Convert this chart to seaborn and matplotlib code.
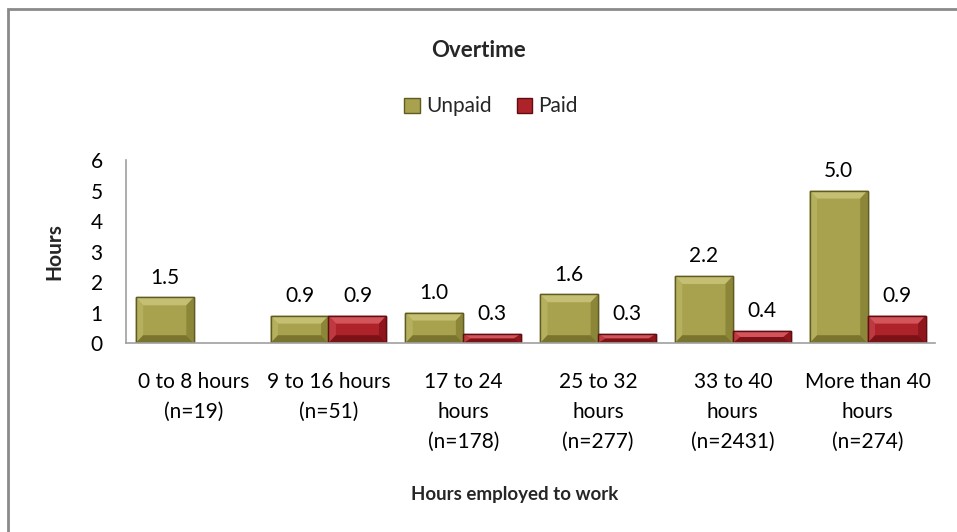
import matplotlib
matplotlib.use("Agg")
import matplotlib.pyplot as plt
import seaborn as sns
import numpy as np
import pandas as pd
from matplotlib.patches import Rectangle, Polygon

# --- data ---
categories = ["0 to 8 hours\n(n=19)", "9 to 16 hours\n(n=51)", "17 to 24\nhours\n(n=178)",
              "25 to 32\nhours\n(n=277)", "33 to 40\nhours\n(n=2431)", "More than 40\nhours\n(n=274)"]
unpaid = [1.5, 0.9, 1.0, 1.6, 2.2, 5.0]
paid = [np.nan, 0.9, 0.3, 0.3, 0.4, 0.9]
series = ["Unpaid", "Paid"]
y_ticks = [0, 1, 2, 3, 4, 5, 6]

COLORS = {"Unpaid": "#A8A24E", "Paid": "#AE2229"}
EDGES = {"Unpaid": "#5F5B22", "Paid": "#5E0E12"}
# bevel shades: top, left, right, bottom
BEVEL = {"Unpaid": ["#C4BF72", "#B5B05E", "#8C8738", "#7A752E"],
         "Paid": ["#D3545B", "#BF3A40", "#8E161C", "#7A1217"]}

df = pd.DataFrame({
    "cat": categories * 2,
    "series": ["Unpaid"] * len(categories) + ["Paid"] * len(categories),
    "value": unpaid + paid,
})

sns.set_style("white")
plt.rcParams["font.family"] = ["Lato", "DejaVu Sans"]

fig = plt.figure(figsize=(9.57, 5.32), dpi=100)
ax = fig.add_axes([0.132, 0.355, 0.845, 0.344])

sns.barplot(data=df, x="cat", y="value", hue="series", hue_order=series,
            palette=COLORS, width=0.86, ax=ax, legend=False, saturation=1)
ax.set_ylim(0, 6)

# bevel frame + data labels, taken from the drawn bars
for cont, name in zip(ax.containers, series):
    for bar in cont:
        if bar is None:
            continue
        h = bar.get_height()
        if np.isnan(h):
            continue
        x0, w = bar.get_x(), bar.get_width()
        x1 = x0 + w
        bx = min(0.055, w / 2)
        by = min(0.26, h / 2)
        top, left, right, bottom = BEVEL[name]
        faces = [
            ([(x0, h), (x1, h), (x1 - bx, h - by), (x0 + bx, h - by)], top),
            ([(x0, 0), (x0, h), (x0 + bx, h - by), (x0 + bx, by)], left),
            ([(x1, 0), (x1, h), (x1 - bx, h - by), (x1 - bx, by)], right),
            ([(x0, 0), (x1, 0), (x1 - bx, by), (x0 + bx, by)], bottom),
        ]
        for pts, c in faces:
            ax.add_patch(Polygon(pts, closed=True, facecolor=c, edgecolor="none", zorder=bar.get_zorder() + 0.1))
        bar.set_edgecolor(EDGES[name])
        bar.set_linewidth(1.0)
        ax.add_patch(Rectangle((x0, 0), w, h, fill=False, edgecolor=EDGES[name], linewidth=1.0,
                               zorder=bar.get_zorder() + 0.2))
        ax.annotate(f"{h:.1f}", (x0 + w / 2, h), xytext=(0, 7), textcoords="offset points",
                    ha="center", va="bottom", fontsize=15, color="black")

ax.set_yticks(y_ticks)
ax.tick_params(axis="both", length=0, labelsize=15, colors="black")
ax.tick_params(axis="x", pad=21)
ax.tick_params(axis="y", pad=17)
for lab in ax.get_xticklabels():
    lab.set_linespacing(1.62)
ax.set_xlabel("")
ax.set_ylabel("Hours", fontsize=15, fontweight="bold")
ax.yaxis.set_label_coords(-0.076, 0.5)

for side in ["top", "right"]:
    ax.spines[side].set_visible(False)
for side in ["left", "bottom"]:
    ax.spines[side].set_color("#A0A0A0")
    ax.spines[side].set_linewidth(1.2)

fig.text(0.5, 0.905, "Overtime", ha="center", va="center", fontsize=16, fontweight="bold")
fig.text(0.538, 0.07, "Hours employed to work", ha="center", va="center",
         fontsize=13.5, fontweight="bold")

handles = [Rectangle((0, 0), 1, 1, facecolor=COLORS[s], edgecolor=EDGES[s]) for s in series]
fig.legend(handles, series, loc="center", bbox_to_anchor=(0.513, 0.80), ncol=2,
           frameon=False, fontsize=15, handlelength=0.75, handleheight=0.75,
           handletextpad=0.3, columnspacing=1.2)

# outer chart border (cropped at right and bottom)
fig.patches.append(Rectangle((8 / 957, -0.05), 1.1, 1 - 9 / 532 + 0.05, transform=fig.transFigure,
                             fill=False, edgecolor="#8A8A8A", linewidth=2.0))

fig.savefig("out.png", dpi=100)
